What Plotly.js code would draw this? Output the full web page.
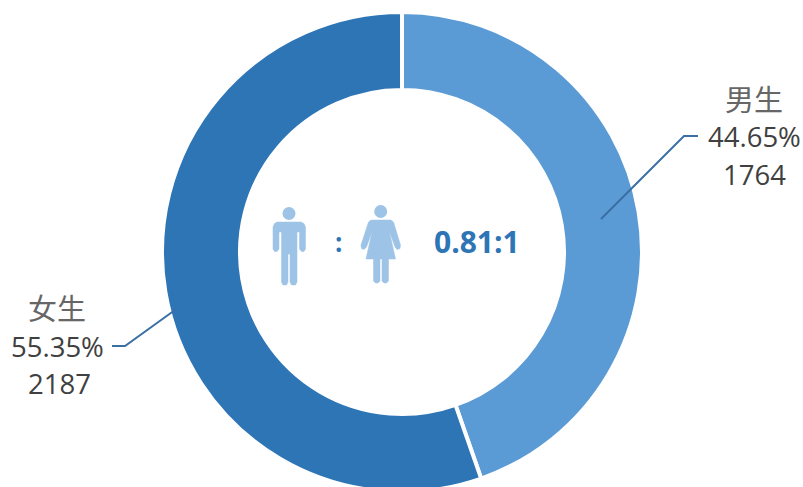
<!DOCTYPE html>
<html><head><meta charset="utf-8">
<script src="https://cdn.plot.ly/plotly-3.0.1.min.js"></script>
<style>html,body{margin:0;padding:0;background:#fff;overflow:hidden;width:803px;height:487px}</style>
</head><body><div id="c"></div>
<script>
const categories = ['男生', '女生'];
const counts = [1764, 2187];
const percents = ['44.65%', '55.35%'];
const colors = ['#5b9bd5', '#2e75b6'];
const ratioText = '0.81:1';

const W = 803, H = 504;
const px = x => x / W, py = y => 1 - y / H;
const line = pts => pts.map((p, i) => (i ? 'L' : 'M') + px(p[0]).toFixed(5) + ',' + py(p[1]).toFixed(5)).join(' ');
const P = pts => line(pts) + ' Z';
const iconC = '#9dc3e6';
const head = (x, y, r) => ({type: 'circle', xref: 'paper', yref: 'paper', x0: px(x - r), x1: px(x + r), y0: py(y + r), y1: py(y - r), fillcolor: iconC, line: {width: 0}});
const poly = pts => ({type: 'path', xref: 'paper', yref: 'paper', path: P(pts), fillcolor: iconC, line: {color: iconC, width: 0.5}});
const lead = pts => ({type: 'path', xref: 'paper', yref: 'paper', path: line(pts), line: {color: '#3a6fa6', width: 2}});

const shapes = [
  lead([[601, 219], [684, 136], [698, 136]]),
  lead([[175, 310], [125, 346], [112, 346]]),
  // man
  head(289, 213.5, 6.5),
  poly([[277, 222], [301, 222], [304, 223.5], [305.5, 227], [305.5, 249], [304, 251.5], [301.5, 251.5], [299.5, 249], [299.5, 232], [297, 232],
        [297, 282], [295.5, 285], [291.5, 285], [290, 282], [290, 254], [288, 254], [288, 282], [286.5, 285], [283, 285], [281.5, 282], [281.5, 232],
        [279, 232], [279, 249], [277, 251.5], [274.5, 251.5], [273, 249], [273, 227], [274.5, 223.5]]),
  // woman
  head(380.7, 211.5, 6.5),
  poly([[371, 220], [391, 220], [393.5, 222], [400.5, 245], [400, 248.5], [397, 249.5], [395, 247], [389.5, 232], [395.5, 259], [388.5, 259],
        [388.5, 281], [386.5, 283], [384, 283], [382, 281], [382, 259], [380, 259], [380, 281], [378, 283], [375.5, 283], [373.5, 281], [373.5, 259], [366, 259],
        [372, 232], [366.5, 247], [364, 249.5], [361.5, 248.5], [361, 245], [368.5, 222]])
];

const txt = (text, x, y, size, color, family) => ({
  text, x: px(x), y: py(y), xref: 'paper', yref: 'paper', xanchor: 'center', yanchor: 'middle', showarrow: false,
  font: {family: family || '"Open Sans",sans-serif', size, color}
});
const grey = '#404040';
const cjk = '"Noto Sans CJK SC"';
const annotations = [
  txt(categories[0], 754, 98, 29, '#666666', cjk),
  txt(percents[0], 754, 137, 27.5, grey),
  txt(String(counts[0]), 754, 174, 27.5, grey),
  txt(categories[1], 57, 307, 29, '#666666', cjk),
  txt(percents[1], 57, 346, 27.5, grey),
  txt(String(counts[1]), 59, 383, 27.5, grey),
  txt('<b>:</b>', 338, 242, 26, '#2e75b6'),
  txt('<b>' + ratioText + '</b>', 477, 241, 30, '#2e75b6')
];

Plotly.newPlot('c', [{
  type: 'pie', labels: categories, values: counts, hole: 0.675, sort: false, direction: 'clockwise', rotation: 0,
  marker: {colors, line: {color: '#ffffff', width: 4}},
  textinfo: 'none', hoverinfo: 'label+percent', showlegend: false,
  domain: {x: [162 / W, 642 / W], y: [1 - 492 / H, 1 - 12 / H]}
}], {
  width: W, height: H, margin: {l: 0, r: 0, t: 0, b: 0}, paper_bgcolor: '#fff', showlegend: false,
  shapes, annotations
}, {displayModeBar: false, staticPlot: true});
</script></body></html>
